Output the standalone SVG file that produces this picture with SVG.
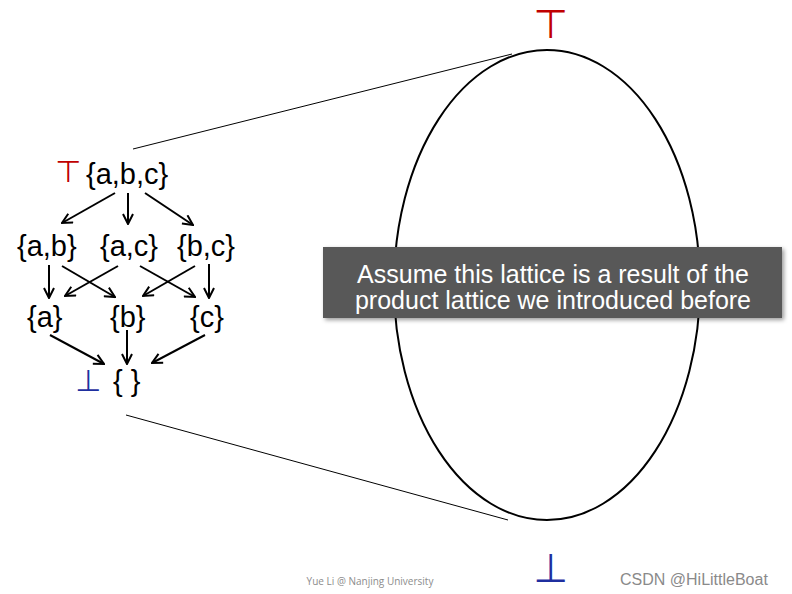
<svg xmlns="http://www.w3.org/2000/svg" width="792" height="594" viewBox="0 0 792 594">
<style>
.lt{font-family:"Liberation Sans",Arial,sans-serif;font-size:29px;fill:#000}
.top{font-family:"DejaVu Sans",sans-serif;fill:#c00000}
.bot{font-family:"DejaVu Sans",sans-serif;fill:#1f2f9f}
.cap{font-family:"Liberation Sans",Arial,sans-serif;font-size:25px;fill:#fff;text-anchor:middle}
</style>
<defs>
<marker id="ah2" viewBox="0 0 12 12" refX="11" refY="6" markerWidth="12" markerHeight="12" orient="auto" markerUnits="userSpaceOnUse">
<polyline points="1,1 11,6 1,11" fill="none" stroke="#000" stroke-width="2"/>
</marker>
<filter id="sh" x="-5%" y="-10%" width="110%" height="130%"><feDropShadow dx="2" dy="2" stdDeviation="2" flood-opacity="0.4"/></filter>
</defs>
<rect width="792" height="594" fill="#fff"/>
<g id="zoom-lines" stroke="#000" stroke-width="1">
<line x1="133" y1="149" x2="512" y2="54"/>
<line x1="126" y1="415" x2="508" y2="520"/>
</g>
<g id="big-lattice">
<ellipse cx="547" cy="285" rx="153" ry="235" fill="none" stroke="#000" stroke-width="2"/>
<text class="top" x="551" y="38" font-size="40" text-anchor="middle">⊤</text>
<text class="bot" x="551" y="582" font-size="40" text-anchor="middle">⊥</text>
</g>
<g id="caption">
<rect x="323" y="247" width="459" height="71" fill="#595959" filter="url(#sh)"/>
<text class="cap" x="553" y="283">Assume this lattice is a result of the</text>
<text class="cap" x="553" y="309">product lattice we introduced before</text>
</g>
<g id="connectors" stroke="#000" stroke-width="2" fill="none">
<line x1="115" y1="193" x2="62" y2="223" marker-end="url(#ah2)"/>
<line x1="128" y1="193" x2="128" y2="224" marker-end="url(#ah2)"/>
<line x1="145" y1="193" x2="193" y2="225" marker-end="url(#ah2)"/>
<line x1="49" y1="265" x2="49" y2="298" marker-end="url(#ah2)"/>
<line x1="62" y1="266" x2="115" y2="297" marker-end="url(#ah2)"/>
<line x1="118" y1="266" x2="65" y2="296" marker-end="url(#ah2)"/>
<line x1="140" y1="266" x2="195" y2="297" marker-end="url(#ah2)"/>
<line x1="195" y1="266" x2="143" y2="296" marker-end="url(#ah2)"/>
<line x1="209" y1="264" x2="209" y2="298" marker-end="url(#ah2)"/>
<line x1="50" y1="335" x2="104" y2="364" marker-end="url(#ah2)"/>
<line x1="127" y1="330" x2="127" y2="364" marker-end="url(#ah2)"/>
<line x1="205" y1="335" x2="152" y2="363" marker-end="url(#ah2)"/>
</g>
<g id="n-abc"><text class="top" x="68" y="182" font-size="30" text-anchor="middle">⊤</text><text class="lt" x="86" y="184">{a,b,c}</text></g>
<g id="n-ab"><text class="lt" x="17" y="256">{a,b}</text></g>
<g id="n-ac"><text class="lt" x="100" y="256">{a,c}</text></g>
<g id="n-bc"><text class="lt" x="177" y="256">{b,c}</text></g>
<g id="n-a"><text class="lt" x="27" y="327">{a}</text></g>
<g id="n-b"><text class="lt" x="110" y="327">{b}</text></g>
<g id="n-c"><text class="lt" x="190" y="327">{c}</text></g>
<g id="n-empty"><text class="bot" x="88" y="391" font-size="30" text-anchor="middle">⊥</text><text class="lt" x="113" y="391">{ }</text></g>
<text x="370" y="585" font-family="'Open Sans','Liberation Sans',sans-serif" font-size="10" fill="#8c8c8c" text-anchor="middle">Yue Li @ Nanjing University</text>
<text x="620" y="585" font-family="'Liberation Sans',Arial,sans-serif" font-size="16" fill="#8a8a8a">CSDN @HiLittleBoat</text>
</svg>
